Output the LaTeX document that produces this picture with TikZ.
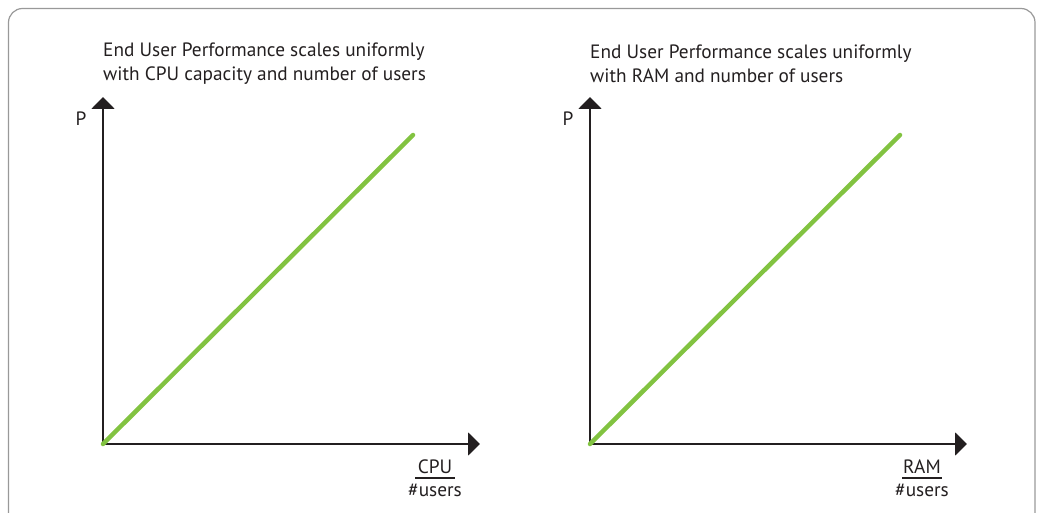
\documentclass[tikz,border=0pt]{standalone}
\usepackage{fontspec}
\setmainfont{PT Sans}
\usetikzlibrary{arrows.meta}

\definecolor{lineGreen}{RGB}{130,195,65}
\definecolor{textGray}{RGB}{35,31,32}

\begin{document}
\begin{tikzpicture}[x=1pt, y=-1pt,
        axis/.style={line width=2pt, draw=textGray, -{Triangle[length=12pt, width=23pt]}},
        graph/.style={line width=4.5pt, draw=lineGreen, line cap=round},
        label/.style={text=textGray, font=\fontsize{19.3}{24}\selectfont, inner sep=0pt}]
        \pgfmathsetmacro{\originY}{444}
        \pgfmathsetmacro{\axisX}{103}
        \pgfmathsetmacro{\topY}{97}
        \pgfmathsetmacro{\tipX}{480}

        \useasboundingbox (0,0) rectangle (1037,513);
        \clip (0,0) rectangle (1037,513);
        \draw[line width=1.2pt, color=black!40, rounded corners=14pt] (8.5,8.5) rectangle (1035,540);

        \foreach \name/\shiftX/\unit/\title in {%
            L/0/CPU/{with CPU capacity and number of users},%
            R/487/RAM/{with RAM and number of users}} {
            \begin{scope}[xshift=\shiftX]
                \coordinate (origin\name) at (\axisX, \originY);
                \coordinate (ytip\name) at (\axisX, \topY);
                \coordinate (xtip\name) at (\tipX, \originY);
                \coordinate (graphEnd\name) at (413, 135);

                \draw[axis] (origin\name) -- (ytip\name);
                \draw[axis] (origin\name) -- (xtip\name);
                \draw[graph] (origin\name) -- (graphEnd\name);

                \node[label, anchor=west, align=left] (title\name) at (\axisX, 64)
                    {End User Performance scales uniformly\\\title};
                \node[label] (p\name) at (81, 119) {P};
                \node[label, align=center] (unit\name) at (435, 478)
                    {\unit\\[-1pt]\#users};
                \draw[line width=1.2pt, textGray] ([xshift=-20pt]unit\name.center) -- ([xshift=20pt]unit\name.center);
            \end{scope}
        }
    \end{tikzpicture}
\end{document}
